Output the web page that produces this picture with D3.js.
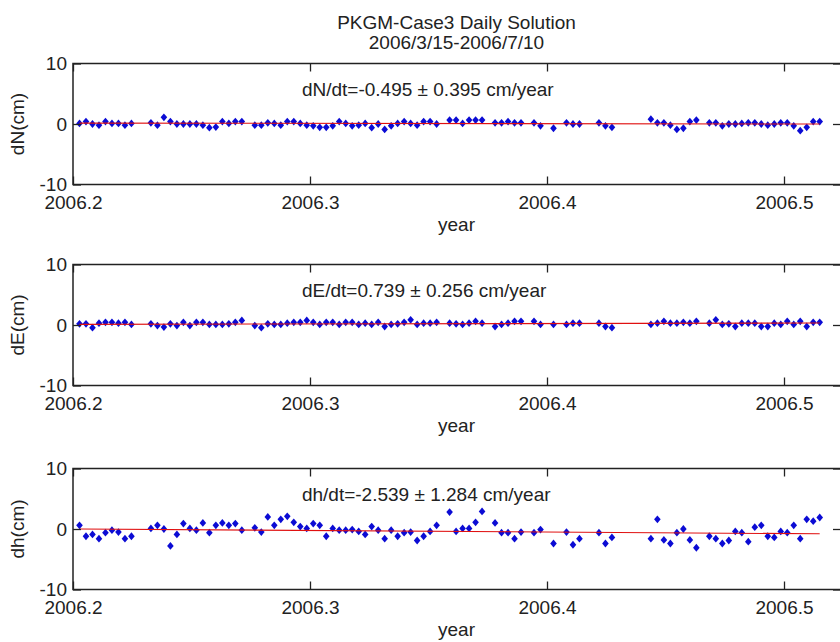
<!DOCTYPE html>
<html>
<head>
<meta charset="utf-8">
<script src="https://cdn.jsdelivr.net/npm/d3@7"></script>
<style>
  body { margin: 0; background: #fff; }
  svg { display: block; }
  text { font-family: "Liberation Sans", Arial, Helvetica, sans-serif; fill: #222; }
</style>
</head>
<body>
<svg id="chart" width="840" height="642"></svg>
<script>
// Day of year (2006) of each daily solution
const days = [
  74, 75, 76, 77, 78, 79, 80, 81, 82,
  85, 86, 87, 88, 89, 90, 91, 92, 93, 94, 95, 96, 97, 98, 99,
  101, 102, 103, 104, 105, 106, 107, 108, 109, 110, 111, 112, 113, 114, 115,
  116, 117, 118, 119, 120, 121, 122, 123, 124, 125, 126, 127, 128, 129,
  131, 132, 133, 134, 135, 136,
  138, 139, 140, 141, 142,
  144, 145,
  147,
  149, 150, 151,
  154, 155, 156,
  162, 163, 164, 165, 166, 167, 168, 169,
  171, 172, 173, 174, 175, 176, 177, 178, 179, 180, 181, 182, 183, 184, 185, 186, 187, 188
];

// North component (cm)
const dN = [
  0.1, 0.4, 0, -0.2, 0.4, 0.1, 0.1, -0.2, 0.1,
  0.2, -0.2, 1.1, 0.4, 0, 0, 0, 0, -0.2, -0.6, -0.5, 0.4, 0.1, 0.4, 0.4,
  -0.2, -0.2, 0.2, 0.1, -0.2, 0.4, 0.4, 0.1, -0.2, -0.3, -0.55, -0.55, -0.3, 0.4, 0.1,
  -0.3, -0.2, 0.1, -0.6, 0, -0.9, -0.3, 0.1, 0.4, 0.1, -0.2, 0.4, 0.4, 0,
  0.65, 0.65, 0.1, 0.65, 0.65, 0.65,
  0.2, 0.2, 0.4, 0.2, 0.2,
  0.2, -0.3,
  -0.7,
  0.2, 0, 0,
  0.2, -0.3, -0.55,
  0.8, 0.2, 0.2, -0.2, -0.9, -0.7, 0.4, 0.65,
  0.2, 0.2, -0.3, 0, 0, 0.1, 0.2, 0.2, 0, -0.2, 0, 0.2, 0.2, -0.3, -1.1, -0.55, 0.4, 0.4
];

// East component (cm)
const dE = [
  0.2, 0.2, -0.45, 0.3, 0.45, 0.45, 0.3, 0.45, 0.1,
  0.2, -0.1, -0.35, 0.2, -0.1, 0.45, -0.1, 0.45, 0.45, 0.1, 0.1, 0.1, 0.2, 0.45, 0.75,
  -0.1, -0.45, 0.2, 0.1, 0.1, 0.3, 0.45, 0.45, 0.75, 0.45, 0.1, 0.45, 0.45, 0.1, 0.45,
  0.45, 0.1, 0.3, 0.1, 0.45, -0.25, 0.1, 0.2, 0.45, 0.85, 0.1, 0.3, 0.3, 0.45,
  0.3, 0.2, 0.1, 0.3, 0.6, 0.3,
  -0.25, 0.1, 0.3, 0.6, 0.6,
  0.6, 0.1,
  0.1,
  0.1, 0.3, 0.3,
  0.3, -0.25, -0.45,
  0.1, 0.3, 0.6, 0.3, 0.3, 0.45, 0.3, 0.6,
  0.3, 0.85, 0.1, 0.2, -0.25, 0.3, 0.3, 0.3, -0.25, -0.25, 0.3, 0.1, 0.6, 0.1, 0.6, -0.25, 0.45, 0.45
];

// Height component (cm)
const dh = [
  0.6, -1.2, -0.9, -1.6, -0.6, -0.2, -0.5, -1.6, -1.2,
  0.1, 0.6, 0, -2.8, -0.9, 0.9, 0.1, -0.2, 1.0, -0.6, 0.6, 1.0, 0.6, 0.9, -0.2,
  0.2, -0.5, 2.0, 0.6, 1.6, 2.1, 1.1, 0.4, 0.1, 0.9, 0.6, -1.2, 0.1, -0.2, -0.2,
  -0.1, -0.4, -0.9, 0.4, -0.2, -1.6, -0.2, -1.2, -0.6, -0.5, -1.9, -1.2, -0.4, 0.6,
  2.8, -0.4, 0.1, 0.1, 1.1, 2.9,
  1.0, -0.6, -0.6, -1.6, -0.5,
  -0.6, -0.1,
  -2.4,
  -0.5, -2.6, -1.6,
  -0.6, -2.4, -1.4,
  -1.6, 1.6, -1.8, -2.4, -0.6, 0, -1.8, -3.1,
  -1.2, -1.6, -2.4, -1.9, -0.4, -0.6, -2.1, 0.3, 0.6, -1.2, -1.4, -0.4, -0.6, 0.6, -1.6, 1.6, 1.3, 1.9
];

// Linear trend per component: rate and sigma (cm/year), value at the first epoch (cm)
const componentNames = ["dN", "dE", "dh"];
const rates = [-0.495, 0.739, -2.539];
const sigmas = [0.395, 0.256, 1.284];
const startValues = [0.15, 0.1, 0.0];

const xTicks = [2006.2, 2006.3, 2006.4, 2006.5];
const yTicks = [-10, 0, 10];
const yTickLabels = ["-10", "0", "10"];
const titleLines = ["PKGM-Case3 Daily Solution", "2006/3/15-2006/7/10"];

const series = [dN, dE, dh];
const toYear = d => 2006 + d / 365;

const svg = d3.select("#chart");
const FS = 19;
const left = 73, right = 841, panelH = 121;
const panelTops = [63.5, 264.5, 468.5];
const axisColor = "#222";

const x = d3.scaleLinear().domain([2006.2, 2006.52405]).range([left, right]);

// Title
const title = svg.append("text")
  .attr("text-anchor", "middle")
  .style("font-size", FS + "px");
title.selectAll("tspan").data(titleLines).join("tspan")
  .attr("x", (left + right) / 2 - 0.5)
  .attr("y", (d, i) => i === 0 ? 29.3 : 49)
  .text(d => d);

const diamond = "M0,-3.9L3.3,0L0,3.9L-3.3,0Z";

series.forEach((vals, k) => {
  const top = panelTops[k];
  const bottom = top + panelH;
  const y = d3.scaleLinear().domain([-10, 10]).range([bottom, top]);
  const g = svg.append("g");

  // Data points
  g.append("g").selectAll("path")
    .data(days.map((d, i) => ({ t: toYear(d), v: vals[i] })))
    .join("path")
    .attr("d", diamond)
    .attr("transform", d => `translate(${x(d.t)},${y(d.v)})`)
    .attr("fill", "#0b0bd4");

  // Trend line over the observation span
  const t0 = toYear(days[0]);
  const t1 = toYear(days[days.length - 1]);
  const fit = [t0, t1].map(t => ({ t, v: startValues[k] + rates[k] * (t - t0) }));
  g.append("path")
    .datum(fit)
    .attr("d", d3.line().x(d => x(d.t)).y(d => y(d.v)))
    .attr("fill", "none")
    .attr("stroke", "#e01010")
    .attr("stroke-width", 1.1);

  // Axes box
  g.append("rect")
    .attr("x", left).attr("y", top)
    .attr("width", right - left).attr("height", panelH)
    .attr("fill", "none").attr("stroke", axisColor).attr("stroke-width", 1.5);

  const styleAxis = sel => {
    sel.select(".domain").remove();
    sel.selectAll(".tick line").attr("stroke", axisColor).attr("stroke-width", 1.3);
    sel.selectAll(".tick text").style("font-size", FS + "px").attr("fill", "#222");
  };

  g.append("g")
    .attr("transform", `translate(0,${bottom})`)
    .call(d3.axisBottom(x).tickValues(xTicks).tickSizeInner(-8).tickSizeOuter(0)
      .tickPadding(11).tickFormat(d3.format(".1f")))
    .call(styleAxis);
  g.append("g")
    .attr("transform", `translate(0,${top})`)
    .call(d3.axisTop(x).tickValues(xTicks).tickSizeInner(-8).tickSizeOuter(0).tickFormat(""))
    .call(styleAxis);
  g.append("g")
    .attr("transform", `translate(${left},0)`)
    .call(d3.axisLeft(y).tickValues(yTicks).tickSizeInner(-8).tickSizeOuter(0)
      .tickPadding(6).tickFormat((d, i) => yTickLabels[i]))
    .call(styleAxis);
  g.append("g")
    .attr("transform", `translate(${right},0)`)
    .call(d3.axisRight(y).tickValues(yTicks).tickSizeInner(-8).tickSizeOuter(0).tickFormat(""))
    .call(styleAxis);

  // Rate annotation
  g.append("text")
    .attr("x", x(2006.2966))
    .attr("y", y(6))
    .attr("dy", "0.46em")
    .style("font-size", FS + "px")
    .text(`${componentNames[k]}/dt=${rates[k].toFixed(3)} \u00B1 ${sigmas[k].toFixed(3)} cm/year`);

  // Axis labels
  g.append("text")
    .attr("x", (left + right) / 2 - 0.5)
    .attr("y", bottom + 46.5)
    .attr("text-anchor", "middle")
    .style("font-size", FS + "px")
    .text("year");
  g.append("text")
    .attr("transform", `translate(23.5,${(top + bottom) / 2}) rotate(-90)`)
    .attr("text-anchor", "middle")
    .style("font-size", FS + "px")
    .text(`${componentNames[k]}(cm)`);
});
</script>
</body>
</html>
